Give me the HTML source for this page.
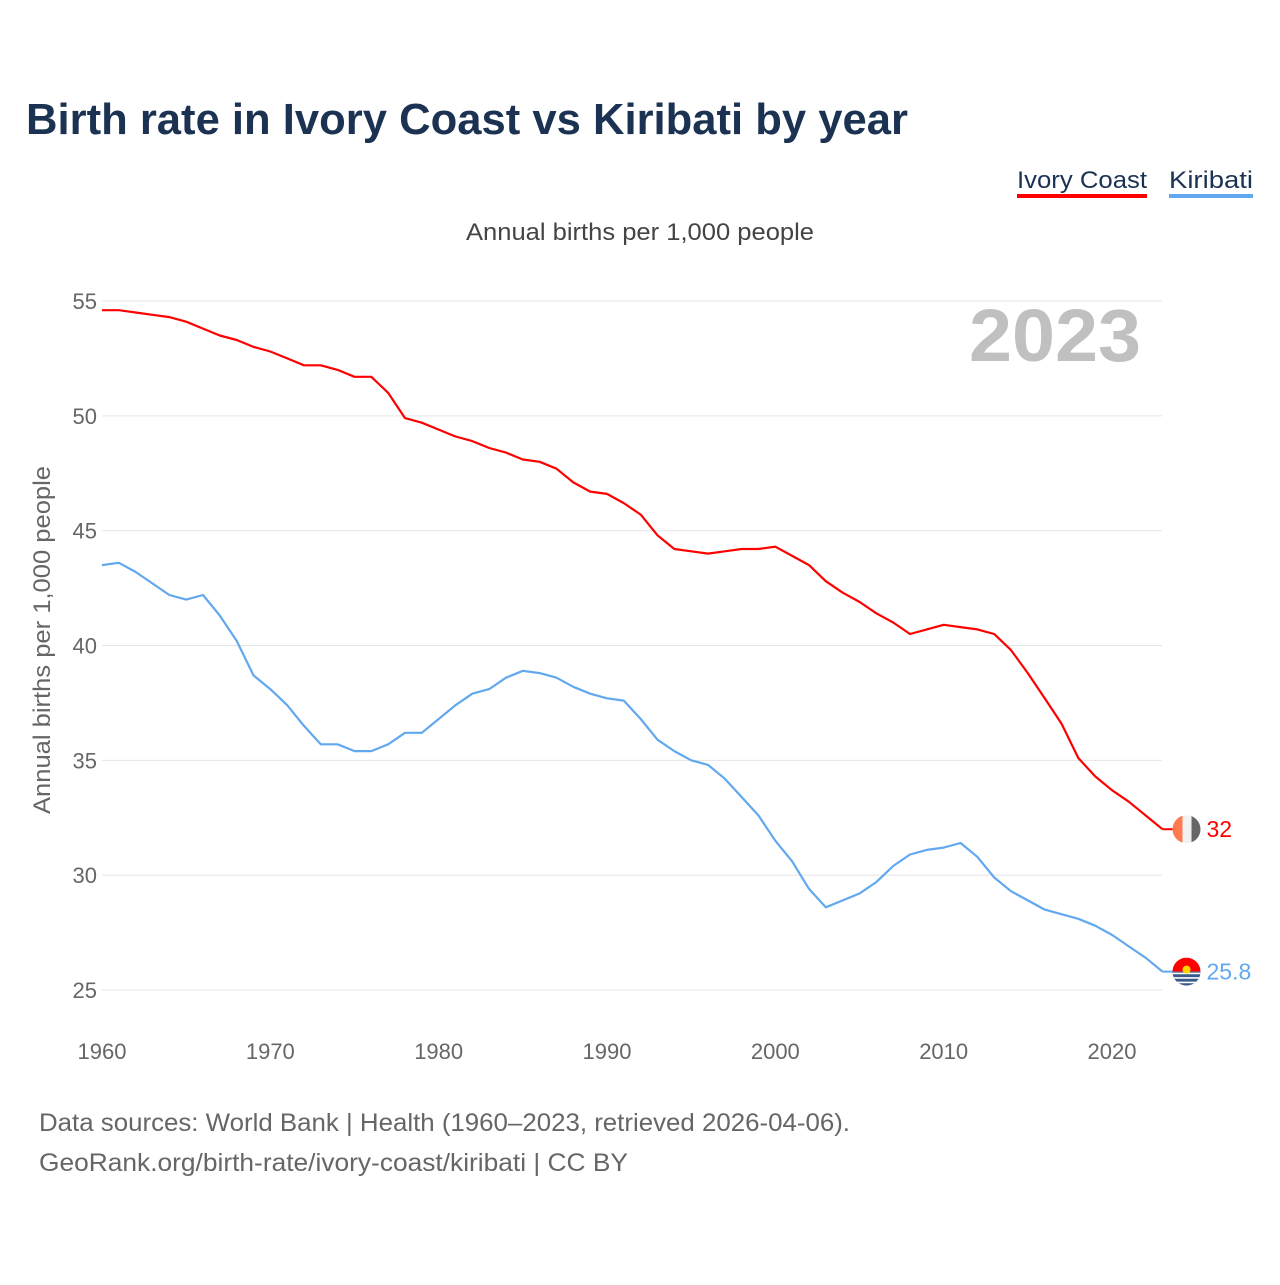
<!DOCTYPE html>
<html><head><meta charset="utf-8"><style>
body{margin:0;background:#fff;width:1280px;height:1280px;overflow:hidden;font-family:"Liberation Sans",sans-serif}
</style></head><body>
<svg width="1280" height="1280" id="chart" xmlns="http://www.w3.org/2000/svg" font-family="Liberation Sans, sans-serif">
<text x="26" y="134" font-size="44" font-weight="bold" fill="#1b3252" textLength="882" lengthAdjust="spacingAndGlyphs">Birth rate in Ivory Coast vs Kiribati by year</text>
<g>
<text x="1017" y="188" font-size="24" fill="#1b3252" textLength="130" lengthAdjust="spacingAndGlyphs">Ivory Coast</text>
<rect x="1017" y="194" width="130" height="4" fill="#ff0000"/>
<text x="1169" y="188" font-size="24" fill="#1b3252" textLength="84" lengthAdjust="spacingAndGlyphs">Kiribati</text>
<rect x="1169" y="194" width="84" height="4" fill="#62a8ee"/>
</g>
<text x="466" y="240" font-size="24" fill="#444" textLength="348" lengthAdjust="spacingAndGlyphs">Annual births per 1,000 people</text>
<text transform="translate(50,640) rotate(-90)" font-size="24" fill="#666" text-anchor="middle" textLength="348" lengthAdjust="spacingAndGlyphs">Annual births per 1,000 people</text>
<text x="1055" y="361" font-size="74" font-weight="bold" fill="#c0c0c0" text-anchor="middle" textLength="172" lengthAdjust="spacingAndGlyphs">2023</text>
<g id="grid"></g><g id="series"></g>
<text x="39" y="1131" font-size="25" fill="#666" textLength="811" lengthAdjust="spacingAndGlyphs">Data sources: World Bank | Health (1960–2023, retrieved 2026-04-06).</text>
<text x="39" y="1171" font-size="25" fill="#666" textLength="589" lengthAdjust="spacingAndGlyphs">GeoRank.org/birth-rate/ivory-coast/kiribati | CC BY</text>
</svg>
<script>
const years=[];for(let y=1960;y<=2023;y++)years.push(y);
const yTicks=[25,30,35,40,45,50,55];
const xTicks=[1960,1970,1980,1990,2000,2010,2020];
const ivoryCoast=[54.6,54.6,54.5,54.4,54.3,54.1,53.8,53.5,53.3,53.0,52.8,52.5,52.2,52.2,52.0,51.7,51.7,51.0,49.9,49.7,49.4,49.1,48.9,48.6,48.4,48.1,48.0,47.7,47.1,46.7,46.6,46.2,45.7,44.8,44.2,44.1,44.0,44.1,44.2,44.2,44.3,43.9,43.5,42.8,42.3,41.9,41.4,41.0,40.5,40.7,40.9,40.8,40.7,40.5,39.8,38.8,37.7,36.6,35.1,34.3,33.7,33.2,32.6,32.0];
const kiribati=[43.5,43.6,43.2,42.7,42.2,42.0,42.2,41.3,40.2,38.7,38.1,37.4,36.5,35.7,35.7,35.4,35.4,35.7,36.2,36.2,36.8,37.4,37.9,38.1,38.6,38.9,38.8,38.6,38.2,37.9,37.7,37.6,36.8,35.9,35.4,35.0,34.8,34.2,33.4,32.6,31.5,30.6,29.4,28.6,28.9,29.2,29.7,30.4,30.9,31.1,31.2,31.4,30.8,29.9,29.3,28.9,28.5,28.3,28.1,27.8,27.4,26.9,26.4,25.8];
const NS='http://www.w3.org/2000/svg';
const X=v=>102+(v-1960)*(1112-102)/60;
const Y=v=>990-(v-25)*(990-301)/30;
function mk(t,a,p){const e=document.createElementNS(NS,t);for(const k in a)e.setAttribute(k,a[k]);p.appendChild(e);return e;}
const grid=document.getElementById('grid'),ser=document.getElementById('series');
yTicks.forEach(v=>{
 const l=mk('line',{x1:102,x2:1162,y1:Y(v),y2:Y(v),stroke:'#e4e4e4','stroke-width':1},grid);
 
 
 const t=mk('text',{x:97,y:Y(v)+8,'font-size':22,fill:'#666','text-anchor':'end'},grid);t.textContent=v;
 
 
});
xTicks.forEach(v=>{
 const t=mk('text',{x:X(v),y:1059,'font-size':22,fill:'#666','text-anchor':'middle'},grid);t.textContent=v;
 
 
});
function line(vals,color,w){
 return mk('path',{d:vals.map((v,i)=>(i?'L':'M')+X(years[i]).toFixed(1)+','+Y(v).toFixed(1)).join(''),fill:'none',stroke:color,'stroke-width':w,'stroke-linejoin':'round'},ser);
}
const p1=line(ivoryCoast,'#ff0000',2.2);


const p2=line(kiribati,'#62a8ee',2.2);


function endLabel(vals,color,name,flag){
 const v=vals[vals.length-1],y=Y(v),x=X(2023);
 mk('line',{x1:x,x2:x+10,y1:y,y2:y,stroke:color,'stroke-width':2},ser);
 const g=mk('g',{},ser);
 
 
 const cx=x+24;
 const cp=mk('clipPath',{id:'c'+name},g);mk('circle',{cx:cx,cy:y,r:14},cp);
 const gg=mk('g',{'clip-path':'url(#c'+name+')'},g);
 if(flag==='ci'){mk('rect',{x:cx-14,y:y-14,width:10,height:28,fill:'#ff7a50'},gg);mk('rect',{x:cx-4,y:y-14,width:9,height:28,fill:'#f2f2f2'},gg);mk('rect',{x:cx+5,y:y-14,width:9,height:28,fill:'#666'},gg);}
 else{mk('rect',{x:cx-14,y:y-14,width:28,height:14,fill:'#ff0000'},gg);mk('rect',{x:cx-14,y:y,width:28,height:14,fill:'#3a5a8a'},gg);for(let k=0;k<3;k++)mk('rect',{x:cx-14,y:y+1+k*4.5,width:28,height:1.6,fill:'#fff'},gg);mk('circle',{cx:cx,cy:y-2,r:4,fill:'#ffd700'},gg);}
 const t=mk('text',{x:cx+20,y:y+8,'font-size':23,fill:color},ser);t.textContent=v;
 
 
}
endLabel(ivoryCoast,'#ff0000','ivory-coast','ci');
endLabel(kiribati,'#62a8ee','kiribati','ki');
</script>
</body></html>
